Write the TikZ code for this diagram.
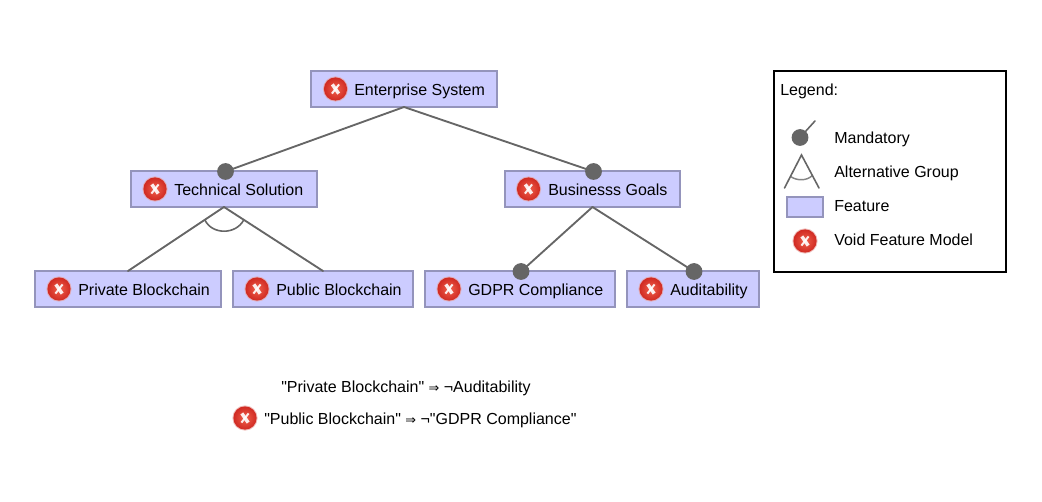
\documentclass[tikz,border=0pt]{standalone}
\usepackage{fontspec}
\setmainfont{Liberation Sans}[Ligatures=TeXOff]
\newfontfamily\symfont{DejaVu Sans}
\usetikzlibrary{calc}
\definecolor{boxfill}{HTML}{CCCCFF}
\definecolor{boxline}{HTML}{9494BC}
\definecolor{conn}{HTML}{666666}
\definecolor{iconhalo}{HTML}{E8A09C}
\definecolor{iconin}{HTML}{F0604C}
\definecolor{iconout}{HTML}{D02A22}
\newcommand\impl{{\symfont\fontsize{9.6pt}{12pt}\selectfont ⇒}}
\tikzset{
  feature/.style={draw=boxline,fill=boxfill,line width=1.5pt,inner sep=0pt,outer sep=0pt,minimum height=27pt},
  labeltext/.style={anchor=base west,inner sep=0pt,font=\fontsize{12pt}{14pt}\selectfont,text=black},
  conline/.style={draw=conn,line width=1.4pt,line cap=round},
  mandot/.style={circle,fill=conn,inner sep=0pt,outer sep=0pt,minimum size=12.6pt},
  voidicon/.pic={
    \fill[iconhalo,opacity=.7] (0,0) circle (12.6);
    \shade[inner color=iconin,outer color=iconout] (0,0) circle (11.6);
    \draw[white,line width=2.6pt,opacity=.9] (-3.2,-4.6) -- (3.2,4.6);
    \draw[white,line width=1.5pt,opacity=.9] (3.6,-4.6) -- (-3.6,4.6);
  }
}
\begin{document}
\begin{tikzpicture}[x=0.75pt,y=-0.75pt]
\useasboundingbox (0,0) rectangle (1042,502);
% feature boxes
\node[feature,minimum width=139.5pt] (es) at (404,89) {};
\node[feature,minimum width=139.5pt] (ts) at (224,189) {};
\node[feature,minimum width=131.25pt] (bg) at (592.5,189) {};
\node[feature,minimum width=139.5pt] (pr) at (128,289) {};
\node[feature,minimum width=135pt] (pu) at (323,289) {};
\node[feature,minimum width=142.5pt] (gd) at (520,289) {};
\node[feature,minimum width=99pt] (au) at (693,289) {};
% mandatory dots
\node[mandot] (mts) at (225.5,171.5) {};
\node[mandot] (mbg) at (593.5,171.5) {};
\node[mandot] (mgd) at (521,271.5) {};
\node[mandot] (mau) at (694,271.5) {};
% connectors
\draw[conline] (es.south) -- (mts.center);
\draw[conline] (es.south) -- (mbg.center);
\draw[conline] (bg.south) -- (mgd.center);
\draw[conline] (bg.south) -- (mau.center);
\draw[conline] (ts.south) -- (pr.north);
\draw[conline] (ts.south) -- (pu.north);
\draw[conline,line width=1.2pt] ($(ts.south)!0.2!(pr.north)$) .. controls (212,235) and (236,235) .. ($(ts.south)!0.2!(pu.north)$);
% icons and labels
\pic at (335.5,89) {voidicon};
\node[labeltext] (tes) at (354,96) {Enterprise System};
\pic at (155,189) {voidicon};
\node[labeltext] (tts) at (174,196) {Technical Solution};
\pic at (528.5,189) {voidicon};
\node[labeltext] (tbg) at (548,196) {Businesss Goals};
\pic at (59,289) {voidicon};
\node[labeltext] (tpr) at (78,296) {Private Blockchain};
\pic at (257,289) {voidicon};
\node[labeltext] (tpu) at (276,296) {Public Blockchain};
\pic at (449,289) {voidicon};
\node[labeltext] (tgd) at (468,296) {GDPR Compliance};
\pic at (651,289) {voidicon};
\node[labeltext] (tau) at (670,296) {Auditability};
% legend
\node[draw=black,line width=1.5pt,inner sep=0pt,outer sep=0pt,minimum width=174pt,minimum height=150.5pt] (lg) at (890,171.5) {};
\node[labeltext] (tlg) at (780,96) {Legend:};
\node[mandot] (lgm) at (800,137.5) {};
\coordinate (lgme) at (815,121);
\draw[conline,line width=1.2pt] (lgm.center) -- (lgme);
\coordinate (lga) at (801.5,155);
\coordinate (lgb) at (784.5,188);
\coordinate (lgc) at (819,188);
\draw[conline,line width=1.2pt] (lgb) -- (lga) -- (lgc);
\draw[conline,line width=1.1pt,draw opacity=.8] ($(lga)!0.65!(lgb)$) .. controls (797,181) and (807,181) .. ($(lga)!0.62!(lgc)$);
\node[feature,minimum width=27pt,minimum height=15pt] (lgf) at (805,207) {};
\pic at (805,241) {voidicon};
\node[labeltext] (tl1) at (834,144) {Mandatory};
\node[labeltext] (tl2) at (834,178) {Alternative Group};
\node[labeltext] (tl3) at (834,212) {Feature};
\node[labeltext] (tl4) at (834,246) {Void Feature Model};
% constraints
\node[labeltext] (c1) at (281,392) {"Private Blockchain" \impl{} ¬Auditability};
\pic at (245,418) {voidicon};
\node[labeltext] (c2) at (264,424.5) {"Public Blockchain" \impl{} ¬"GDPR Compliance"};
\end{tikzpicture}
\end{document}
